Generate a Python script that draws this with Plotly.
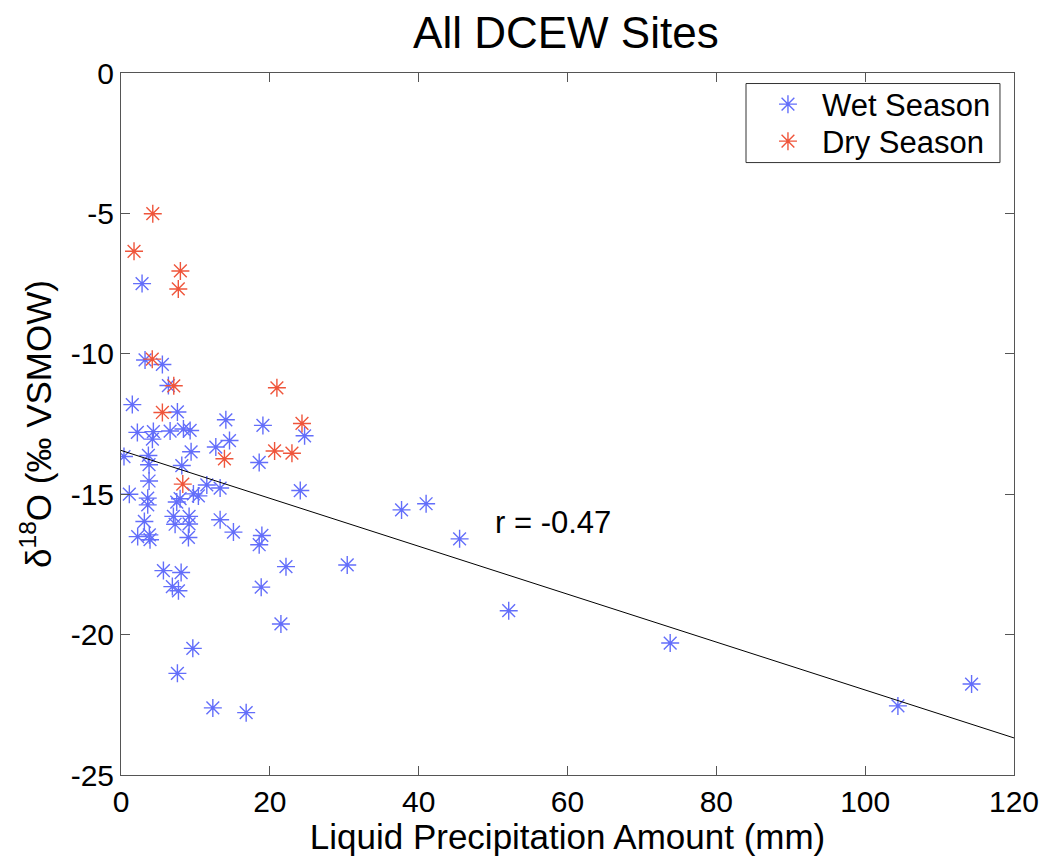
import plotly.graph_objects as go

wet_x = [2.83, 3.23, 5.56, 6.37, 1.52, 7.58, 14.09, 19.07, 24.67, 2.2, 4.35, 4.22, 6.6, 8.39, 9.29,
         14.58, 12.74, 9.42, 18.57, 0.4, 3.68, 3.77, 8.17, 3.77, 11.53, 13.32, 24.09, 1.12, 3.59,
         3.59, 7.94, 7.49, 9.73, 10.4, 3.14, 7.04, 7.27, 9.15, 9.15, 13.32, 15.11, 2.24, 3.81, 3.9,
         9.06, 18.93, 18.57, 5.7, 8.08, 22.17, 6.9, 7.72, 18.84, 21.49, 9.65, 7.58, 12.34, 16.82,
         30.4, 37.7, 41.0, 45.5, 52.1, 73.8, 104.4, 114.3]
wet_y = [-7.5, -10.22, -10.38, -11.13, -11.81, -12.07, -12.35, -12.55, -12.92, -12.8, -12.77, -13.04,
         -12.75, -12.68, -12.73, -13.09, -13.32, -13.49, -13.87, -13.66, -13.62, -13.95, -13.98,
         -14.53, -14.67, -14.78, -14.87, -15.0, -15.14, -15.38, -15.16, -15.28, -14.99, -15.06,
         -15.97, -15.79, -16.07, -15.79, -16.06, -15.91, -16.35, -16.51, -16.45, -16.62, -16.54,
         -16.47, -16.8, -17.72, -17.79, -17.58, -18.29, -18.44, -18.31, -19.62, -20.49, -21.38,
         -22.61, -22.78, -17.52, -15.56, -15.34, -16.59, -19.15, -20.3, -22.54, -21.76]

dry_x = [4.27, 1.75, 7.98, 7.7, 4.2, 7.09, 20.95, 5.56, 24.32, 20.64, 22.97, 13.9, 8.3]
dry_y = [-5.01, -6.35, -7.05, -7.69, -10.19, -11.14, -11.21, -12.09, -12.48, -13.46, -13.54, -13.74, -14.64]

fit_x = [0, 120]
fit_y = [-13.44, -23.68]

x_ticks = [0, 20, 40, 60, 80, 100, 120]
y_ticks = [-25, -20, -15, -10, -5, 0]

FONT = "Liberation Sans, Arial, sans-serif"

fig = go.Figure()
fig.add_trace(go.Scatter(x=wet_x, y=wet_y, mode="markers", name="Wet Season", legend="legend",
                         marker=dict(symbol="asterisk-open", size=15,
                                     line=dict(color="rgba(0,0,255,0.7)", width=1.4))))
fig.add_trace(go.Scatter(x=dry_x, y=dry_y, mode="markers", name="Dry Season", legend="legend2",
                         marker=dict(symbol="asterisk-open", size=15,
                                     line=dict(color="rgba(255,0,0,0.7)", width=1.4))))
fig.add_trace(go.Scatter(x=fit_x, y=fit_y, mode="lines", showlegend=False,
                         line=dict(color="black", width=1)))

fig.add_annotation(x=50, y=-16.0, xanchor="left", yanchor="middle", text="r = -0.47",
                   showarrow=False, font=dict(size=31, color="black", family=FONT))

# legend frame
fig.add_shape(type="rect", xref="paper", yref="paper", x0=0.6999, x1=0.9843, y0=0.8724, y1=0.985,
              line=dict(color="#333333", width=1), fillcolor="white", layer="above")

axis_common = dict(showgrid=False, zeroline=False, showline=True, mirror="ticks",
                   linecolor="#555555", linewidth=1, ticks="inside", ticklen=9,
                   tickcolor="#555555", automargin=False,
                   tickfont=dict(size=30, color="black", family=FONT))

leg_common = dict(xanchor="left", yanchor="middle", borderwidth=0, bgcolor="rgba(0,0,0,0)",
                  font=dict(size=31, family=FONT, color="black"),
                  itemsizing="trace", itemwidth=58)

fig.update_layout(
    width=1044, height=856,
    margin=dict(l=121, r=30, t=73, b=81),
    paper_bgcolor="white", plot_bgcolor="white",
    font=dict(family=FONT, color="black"),
    title=dict(text="All DCEW Sites", x=0.542, xanchor="center", y=0.962, yanchor="middle",
               font=dict(size=44, family=FONT, color="black")),
    xaxis=dict(range=[0, 120], tickvals=x_ticks, ticktext=[str(v) for v in x_ticks],
               title=dict(text="Liquid Precipitation Amount (mm)", standoff=2,
                          font=dict(size=35, family=FONT, color="black")),
               **axis_common),
    yaxis=dict(range=[-25, 0], tickvals=y_ticks, ticktext=[str(v) for v in y_ticks],
               title=dict(text="δ<sup>18</sup>O (‰ VSMOW)", standoff=8,
                          font=dict(size=35, family=FONT, color="black")),
               **axis_common),
    legend=dict(x=0.7088, y=0.9551, **leg_common),
    legend2=dict(x=0.7088, y=0.9024, **leg_common),
)

fig.write_html("out.html")
